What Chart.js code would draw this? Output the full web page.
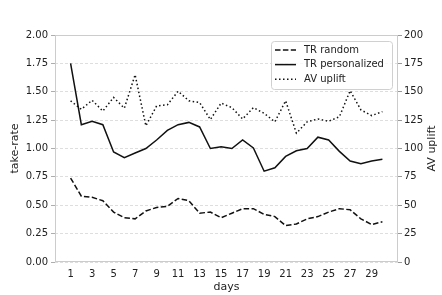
<!DOCTYPE html>
<html>
<head>
<meta charset="utf-8">
<script src="https://cdn.jsdelivr.net/npm/chart.js@4"></script>
<style>
  html, body { margin: 0; padding: 0; background: #fff; }
  #wrap { width: 442px; height: 295px; }
</style>
</head>
<body>
<div id="wrap"><canvas id="chart"></canvas></div>
<script>
const days = [1, 2, 3, 4, 5, 6, 7, 8, 9, 10, 11, 12, 13, 14, 15, 16, 17, 18, 19, 20, 21, 22, 23, 24, 25, 26, 27, 28, 29, 30];
const xTicks = [1, 3, 5, 7, 9, 11, 13, 15, 17, 19, 21, 23, 25, 27, 29];

const trRandom = [0.74, 0.58, 0.57, 0.54, 0.44, 0.39, 0.38, 0.45, 0.48, 0.49,
  0.56, 0.54, 0.43, 0.44, 0.39, 0.43, 0.47, 0.47, 0.42, 0.40,
  0.32, 0.335, 0.38, 0.40, 0.44, 0.47, 0.46, 0.38, 0.33, 0.355];
const trPersonalized = [1.75, 1.21, 1.24, 1.21, 0.97, 0.92, 0.96, 1.00, 1.075, 1.16,
  1.21, 1.23, 1.19, 1.00, 1.015, 1.00, 1.075, 1.005, 0.80, 0.83,
  0.93, 0.98, 1.00, 1.10, 1.075, 0.975, 0.89, 0.865, 0.89, 0.905];
const avUplift = [142, 134.5, 142.5, 133, 145, 135.5, 165, 120, 137.5, 138.5,
  150.5, 142, 140.5, 125.5, 140, 136, 126, 136, 131, 123.5,
  142, 113.5, 123.5, 126, 124, 128, 151, 134, 129, 132.5];

const FONT = "DejaVu Sans";
Chart.defaults.font.family = FONT;
Chart.defaults.font.size = 10;
Chart.defaults.color = "#222";

const toXY = vals => days.map((d, i) => ({ x: d, y: vals[i] }));

// spines, right axis label and the legend box
const extras = {
  id: "extras",
  afterDraw(chart) {
    const { ctx, chartArea: a } = chart;
    ctx.save();
    ctx.strokeStyle = "#cccccc";
    ctx.lineWidth = 1;
    ctx.setLineDash([]);
    ctx.strokeRect(a.left + 0.5, a.top + 0.5, a.right - a.left - 1, a.bottom - a.top - 1);

    ctx.fillStyle = "#222";
    ctx.font = "11px " + FONT;
    ctx.textAlign = "center";
    ctx.textBaseline = "middle";
    ctx.translate(432, (a.top + a.bottom) / 2);
    ctx.rotate(-Math.PI / 2);
    ctx.fillText("AV uplift", 0, 0);
    ctx.restore();

    const w = 121, h = 48;
    const bx = a.right - w - 6, by = a.top + 6;
    ctx.save();
    ctx.beginPath();
    ctx.roundRect(bx + 0.5, by + 0.5, w, h, 3);
    ctx.fillStyle = "rgba(255,255,255,0.8)";
    ctx.fill();
    ctx.strokeStyle = "#d0d0d0";
    ctx.lineWidth = 1;
    ctx.stroke();
    ctx.font = "10px " + FONT;
    ctx.textAlign = "left";
    ctx.textBaseline = "middle";
    chart.data.datasets.forEach((ds, i) => {
      const y = by + 9 + i * 14.6;
      ctx.beginPath();
      ctx.setLineDash(ds.borderDash || []);
      ctx.strokeStyle = ds.borderColor;
      ctx.lineWidth = ds.borderWidth;
      ctx.moveTo(bx + 4, y);
      ctx.lineTo(bx + 25, y);
      ctx.stroke();
      ctx.setLineDash([]);
      ctx.fillStyle = "#222";
      ctx.fillText(ds.label, bx + 33, y);
    });
    ctx.restore();
  }
};

new Chart(document.getElementById("chart"), {
  type: "line",
  data: {
    datasets: [
      {
        label: "TR random",
        data: toXY(trRandom),
        yAxisID: "y",
        borderColor: "#111",
        borderWidth: 1.5,
        borderDash: [5.5, 2.4],
        pointRadius: 0,
        tension: 0
      },
      {
        label: "TR personalized",
        data: toXY(trPersonalized),
        yAxisID: "y",
        borderColor: "#111",
        borderWidth: 1.5,
        pointRadius: 0,
        tension: 0
      },
      {
        label: "AV uplift",
        data: toXY(avUplift),
        yAxisID: "y2",
        borderColor: "#111",
        borderWidth: 1.5,
        borderDash: [1.5, 2.5],
        pointRadius: 0,
        tension: 0
      }
    ]
  },
  options: {
    responsive: true,
    maintainAspectRatio: false,
    animation: false,
    layout: { padding: { top: 35, left: 0, right: 0, bottom: 0 } },
    plugins: {
      legend: { display: false },
      tooltip: { enabled: false }
    },
    scales: {
      x: {
        type: "linear",
        min: -0.45,
        max: 31.45,
        afterBuildTicks: scale => { scale.ticks = xTicks.map(v => ({ value: v })); },
        afterFit: scale => { scale.height = 33; },
        grid: { display: false, drawTicks: false },
        border: { display: false },
        ticks: { padding: 6, maxRotation: 0, autoSkip: false },
        title: { display: true, text: "days", font: { size: 11 }, padding: { top: 0, bottom: 1 } }
      },
      y: {
        position: "left",
        min: 0,
        max: 2,
        afterFit: scale => { scale.width = 55; },
        ticks: { stepSize: 0.25, padding: 3, callback: v => v.toFixed(2) },
        grid: { color: "#d5d5d5", tickColor: "#999", tickLength: 4, lineWidth: 0.8 },
        border: { display: false, dash: [3, 2] },
        title: { display: true, text: "take-rate", font: { size: 11 }, padding: { top: 8.4, bottom: 0 } }
      },
      y2: {
        position: "right",
        min: 0,
        max: 200,
        afterFit: scale => { scale.width = 44; },
        ticks: { stepSize: 25, padding: 2 },
        grid: { drawOnChartArea: false, tickColor: "#999", tickLength: 4 },
        border: { display: false }
      }
    }
  },
  plugins: [extras]
});
</script>
</body>
</html>
